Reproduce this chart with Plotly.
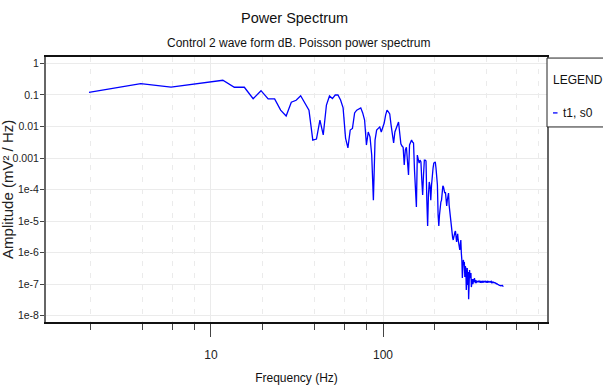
import plotly.graph_objects as go

# Spectrum bins: 1000 Hz sampling, 512-point transform
BIN_HZ = 1000 / 512

# Power spectral density per bin (mV^2/Hz), bins 1..256
amplitude = [
    # ~2-70 Hz
    0.122, 0.229, 0.179, 0.221, 0.259, 0.293, 0.176, 0.176, 0.076, 0.137,
    0.075, 0.075, 0.033, 0.0215, 0.059, 0.068, 0.095, 0.052, 0.033, 0.0037,
    0.004, 0.016, 0.0054, 0.048, 0.093, 0.077, 0.1, 0.1, 0.069, 0.039,
    0.0043, 0.0021, 0.0077, 0.0087, 0.027, 0.033, 0.036,
    # ~72-142 Hz
    0.039, 0.027, 0.016, 0.0026, 0.0067, 0.0047, 0.00124, 4.6e-5, 0.0037, 0.0077,
    0.009, 0.0097, 0.0067, 0.0097, 0.0129, 0.023, 0.033, 0.029, 0.025, 0.0112,
    0.005, 0.003, 0.0067, 0.009, 0.0112, 0.0139, 0.0062, 0.0028, 0.0024, 0.0022,
    6.0e-4, 1.8e-3, 2.2e-3, 8.6e-4, 2.9e-4, 2.6e-3, 3.3e-3,
    # ~144-213 Hz
    3.7e-3, 3.2e-3, 3.0e-3, 4.2e-4, 6.7e-5, 2.8e-5, 1.24e-3, 8.6e-4, 6.9e-4, 8.6e-4,
    7.5e-4, 2.0e-4, 6.7e-5, 2.9e-4, 8.6e-4, 8.6e-4, 8.0e-4, 4.6e-5, 6.9e-6, 6.7e-5,
    1.73e-4, 1.3e-4, 4.6e-5, 1.39e-4, 3.6e-4, 4.8e-4, 6.9e-4, 7.5e-4, 7.5e-4, 4.8e-4,
    2.3e-4, 1.39e-4, 1.55e-5, 6.9e-6, 1.55e-5, 3.2e-5, 4.0e-5,
    # ~215-291 Hz
    4.6e-5, 9.6e-5, 1.3e-4, 1.2e-4, 9.6e-5, 7.7e-5, 8.3e-5, 4.6e-5, 3.0e-5, 4.6e-5,
    6.7e-5, 7.7e-5, 3.2e-5, 1.93e-5, 1.34e-5, 9.3e-6, 5.2e-6, 3.6e-6, 2.9e-6, 2.5e-6,
    3.3e-6, 4.2e-6, 4.5e-6, 4.8e-6, 3.3e-6, 2.15e-6, 2.9e-6, 3.9e-6, 2.5e-6, 1.73e-6,
    1.39e-6, 1.2e-6, 1.73e-6, 2.5e-6, 9.6e-7, 5.8e-7, 1.55e-7, 4.0e-7, 5.8e-7, 4.5e-7,
    # ~293-350 Hz
    5.0e-7, 1.67e-7, 3.7e-7, 3.2e-7, 6.5e-8, 2.8e-7, 3.2e-7, 9.3e-8, 2.4e-7, 3.3e-8,
    1.93e-7, 2.8e-7, 1.55e-7, 1.8e-7, 2.23e-7, 8.0e-8, 1.34e-7, 1.44e-7, 1.0e-7, 1.07e-7,
    1.44e-7, 1.16e-7, 1.55e-7, 1.24e-7, 1.07e-7, 1.34e-7, 1.07e-7, 1.24e-7,
    # ~352-500 Hz
    1.2e-7, 1.15e-7, 1.25e-7, 1.15e-7, 1.2e-7, 1.25e-7, 1.15e-7, 1.2e-7, 1.1e-7, 1.2e-7,
    1.25e-7, 1.15e-7, 1.2e-7, 1.2e-7, 1.1e-7, 1.25e-7, 1.2e-7, 1.15e-7, 1.2e-7, 1.2e-7,
    1.15e-7, 1.25e-7, 1.2e-7, 1.15e-7, 1.2e-7, 1.2e-7, 1.1e-7, 1.2e-7, 1.2e-7, 1.15e-7,
    1.2e-7, 1.2e-7, 1.15e-7, 1.2e-7, 1.15e-7, 1.2e-7, 1.15e-7, 1.15e-7, 1.2e-7, 1.1e-7,
    1.15e-7, 1.15e-7, 1.1e-7, 1.15e-7, 1.1e-7, 1.15e-7, 1.1e-7, 1.1e-7, 1.15e-7, 1.1e-7,
    1.05e-7, 1.1e-7, 1.05e-7, 1.0e-7, 1.05e-7, 1.0e-7, 1.0e-7, 9.5e-8, 1.0e-7, 9.5e-8,
    9.5e-8, 9.0e-8, 9.5e-8, 9.0e-8, 9.0e-8, 8.8e-8, 9.0e-8, 8.8e-8, 9.0e-8, 8.8e-8,
    8.8e-8, 8.8e-8, 9.0e-8, 8.8e-8, 8.8e-8, 8.6e-8, 8.8e-8,
]
frequency = [BIN_HZ * (i + 1) for i in range(len(amplitude))]

SERIES_NAME = "t1, s0"

X_MAJOR = [10, 100]
X_MAJOR_TEXT = ["10", "100"]
X_MINOR = [2, 4, 6, 8, 20, 40, 60, 80, 200, 400, 600, 800]
Y_TICKS = [1e-8, 1e-7, 1e-6, 1e-5, 1e-4, 1e-3, 1e-2, 1e-1, 1]
Y_TEXT = ["1e-8", "1e-7", "1e-6", "1e-5", "1e-4", "0.001", "0.01", "0.1", "1"]

SANS = "Liberation Sans, Arial, sans-serif"
GRID = "#ebebeb"

fig = go.Figure()
fig.add_trace(go.Scatter(
    x=frequency, y=amplitude, mode="lines", name=SERIES_NAME,
    line=dict(color="#0000ff", width=1.3), showlegend=False,
))

fig.update_layout(
    width=603, height=385,
    margin=dict(l=46, r=56, t=57, b=63),
    paper_bgcolor="white", plot_bgcolor="white",
    font=dict(family=SANS, size=12, color="#222"),
)

fig.update_xaxes(
    type="log", range=[0.041, 2.953], automargin=False,
    tickmode="array", tickvals=X_MAJOR, ticktext=X_MAJOR_TEXT,
    ticks="outside", ticklen=13, tickwidth=1, tickcolor="#444",
    ticklabelstandoff=8,
    tickfont=dict(family=SANS, size=12, color="#222"),
    showgrid=True, gridcolor=GRID, gridwidth=1.2,
    minor=dict(tickmode="array", tickvals=X_MINOR, ticks="outside", ticklen=6,
               tickcolor="#444", showgrid=True, gridcolor=GRID,
               griddash="5px,7px", gridwidth=1.2),
    showline=True, linecolor="#111", linewidth=1.5, mirror=True,
    zeroline=False,
    title=dict(text="Frequency (Hz)", standoff=14,
               font=dict(family=SANS, size=12, color="#111")),
)

fig.update_yaxes(
    type="log", range=[-8.206, 0.206], automargin=False,
    tickmode="array", tickvals=Y_TICKS, ticktext=Y_TEXT,
    ticks="outside", ticklen=4, tickwidth=1, tickcolor="#444",
    ticklabelstandoff=-1,
    tickfont=dict(family=SANS, size=10.5, color="#222"),
    showgrid=True, gridcolor=GRID, gridwidth=1.2,
    showline=True, linecolor="#666", linewidth=2, mirror=True,
    zeroline=False,
)

# Rotated y-axis title
fig.add_annotation(text="Amplitude (mV² / Hz)", xref="paper", yref="paper",
                   x=-0.077, y=0.5, textangle=-90, showarrow=False,
                   xanchor="center", yanchor="middle",
                   font=dict(family=SANS, size=15, color="#222"))

# Titles
fig.add_annotation(text="Power Spectrum", xref="paper", yref="paper",
                   x=0.497, y=1.147, showarrow=False, xanchor="center", yanchor="middle",
                   font=dict(family=SANS, size=14.5, color="#111"))
fig.add_annotation(text="Control 2 wave form dB. Poisson power spectrum",
                   xref="paper", yref="paper", x=0.503, y=1.053, showarrow=False,
                   xanchor="center", yanchor="middle",
                   font=dict(family=SANS, size=12, color="#111"))

# Legend panel to the right of the plot
fig.add_shape(type="rect", xref="paper", yref="paper", x0=1.0, x1=1.25,
              y0=0.736, y1=0.996, line=dict(color="#222", width=1), fillcolor="white")
fig.add_annotation(text="LEGEND", xref="paper", yref="paper", x=1.062, y=0.913,
                   showarrow=False, xanchor="center", yanchor="middle",
                   font=dict(family=SANS, size=12, color="#111"))
fig.add_shape(type="line", xref="paper", yref="paper", x0=1.012, x1=1.021,
              y0=0.789, y1=0.789, line=dict(color="#0000ff", width=1.3))
fig.add_annotation(text=SERIES_NAME, xref="paper", yref="paper", x=1.027, y=0.789,
                   showarrow=False, xanchor="left", yanchor="middle",
                   font=dict(family=SANS, size=12, color="#111"))

fig.write_html("out.html")
